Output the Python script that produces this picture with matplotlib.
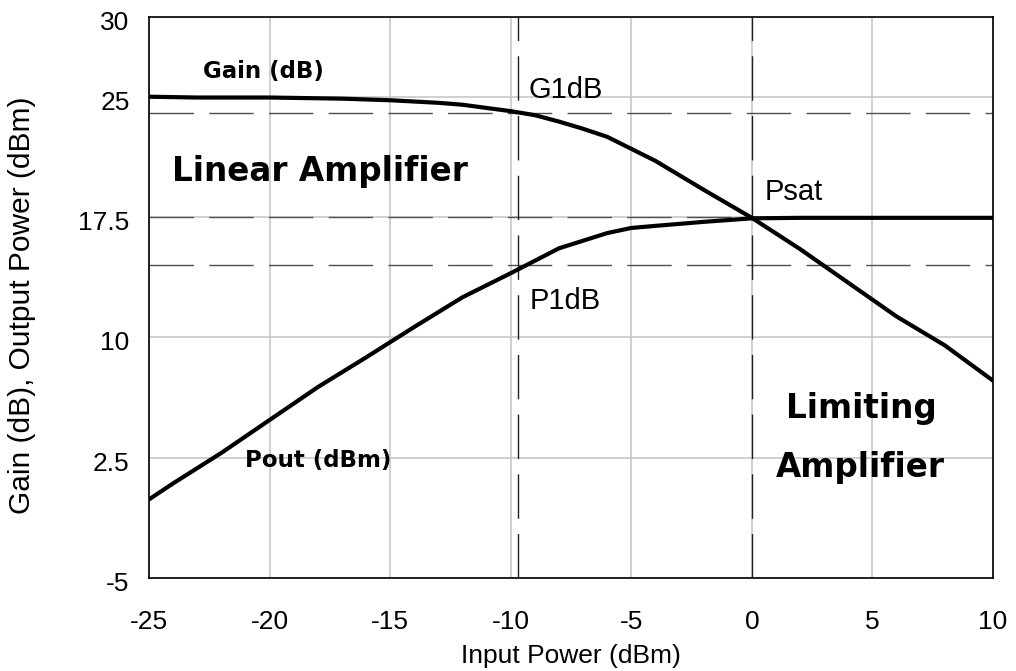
import numpy as np
import matplotlib
matplotlib.use("Agg")
import matplotlib.pyplot as plt
from matplotlib.transforms import ScaledTranslation

# input power (dBm)
x_gain = [-25, -23, -20, -17, -15, -13, -12, -10, -9, -8, -7, -6, -4, -2, 0, 2, 4, 6, 8, 10]
gain = [25.0, 24.95, 24.95, 24.88, 24.78, 24.62, 24.5, 24.1, 23.85, 23.45, 23.0, 22.5,
        21.0, 19.2, 17.45, 15.5, 13.4, 11.3, 9.5, 7.3]

x_pout = [-25, -24, -23, -22, -20, -18, -16, -14, -12, -10, -8, -6, -5, -4, -2, 0, 2, 4, 6, 8, 10]
pout = [-0.1, 0.9, 1.85, 2.8, 4.85, 6.9, 8.75, 10.65, 12.5, 14.0, 15.55, 16.5, 16.82,
        16.95, 17.2, 17.42, 17.45, 17.45, 17.45, 17.45, 17.45]

g1db = 24.0
psat = 17.5
p1db = 14.5
x_1db = -9.7
x_sat = 0

xticks = [-25, -20, -15, -10, -5, 0, 5, 10]
yticks = [-5, 2.5, 10, 17.5, 25, 30]
ytick_labels = ["-5", "2.5", "10", "17.5", "25", "30"]

plt.rcParams['font.family'] = ['Liberation Sans', 'DejaVu Sans']
plt.rcParams['axes.unicode_minus'] = False

fig = plt.figure(figsize=(10.16, 6.71), dpi=100)
ax = fig.add_axes([0.1467, 0.1386, 0.8307, 0.8368])

ax.grid(True, color='#c8c8c8', linewidth=1.2)
ax.set_axisbelow(True)

# reference lines
for yv in [g1db, psat, p1db]:
    ax.axhline(yv, color='#505050', linewidth=1.0, dashes=(32, 11), zorder=2)
for xv in [x_1db, x_sat]:
    ax.axvline(xv, color='#202020', linewidth=1.0, dashes=(32, 11), zorder=2)

ax.plot(x_gain, gain, color='black', linewidth=3.0, zorder=3)
ax.plot(x_pout, pout, color='black', linewidth=3.0, zorder=3)

ax.set_xlim(-25, 10)
ax.set_ylim(-5, 30)
ax.set_xticks(xticks)
ax.set_yticks(yticks)
ax.set_yticklabels(ytick_labels)
ax.tick_params(length=0, labelsize=19)
ax.tick_params(axis='x', pad=23)
ax.tick_params(axis='y', pad=14)
for lab in ax.get_yticklabels():
    lab.set_transform(lab.get_transform() + ScaledTranslation(0, -3.5 / 100, fig.dpi_scale_trans))
for s in ax.spines.values():
    s.set_color('black')
    s.set_linewidth(1.2)

ax.set_xlabel("Input Power (dBm)", fontsize=19)
ax.xaxis.set_label_coords(0.5, -0.117)
ax.set_ylabel("Gain (dB), Output Power (dBm)", fontsize=21.5)
ax.yaxis.set_label_coords(-0.134, 0.485)

bold = dict(family='DejaVu Sans', fontweight='bold', color='black')
ax.text(-20.27, 26.17, "Gain (dB)", fontsize=16.5, ha='center', va='baseline', **bold)
ax.text(-18.0, 1.94, "Pout (dBm)", fontsize=16.5, ha='center', va='baseline', **bold)
ax.text(-17.9, 19.72, "Linear Amplifier", fontsize=23.5, ha='center', va='baseline', **bold)
ax.text(4.53, 4.98, "Limiting", fontsize=23.5, ha='center', va='baseline', **bold)
ax.text(4.5, 1.3, "Amplifier", fontsize=23.5, ha='center', va='baseline', **bold)

ax.text(-9.28, 24.93, "G1dB", fontsize=21, ha='left', va='baseline')
ax.text(0.51, 18.54, "Psat", fontsize=21, ha='left', va='baseline')
ax.text(-9.2, 11.76, "P1dB", fontsize=21, ha='left', va='baseline')

plt.savefig("out.png", dpi=100)
